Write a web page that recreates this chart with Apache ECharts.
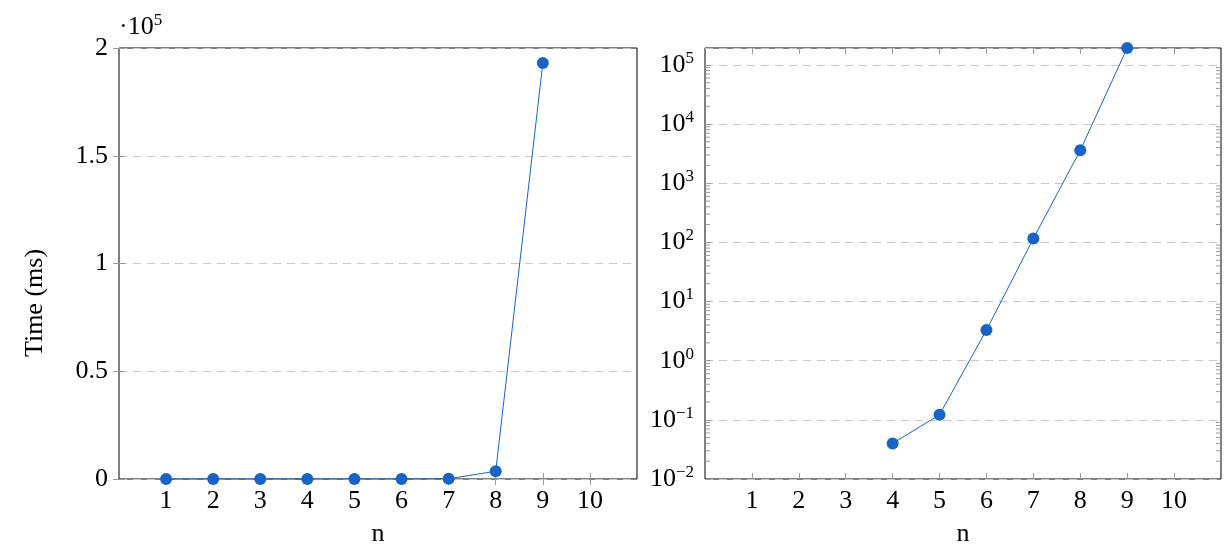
<!DOCTYPE html>
<html>
<head>
<meta charset="utf-8">
<script src="https://cdn.jsdelivr.net/npm/echarts@6/dist/echarts.min.js"></script>
<style>
html,body{margin:0;padding:0;background:#fff;}
#chart{width:1224px;height:547px;}
</style>
</head>
<body>
<div id="chart"></div>
<script>
// ---- data ----
const nValues = [1, 2, 3, 4, 5, 6, 7, 8, 9];
const timeMs = [0, 0, 0, 0.04, 0.122, 3.3, 116, 3600, 193000];
const xTickValues = [1, 2, 3, 4, 5, 6, 7, 8, 9, 10];
const linearTickLabels = ['0', '0.5', '1', '1.5', '2'];
const logMinorMultipliers = [2, 3, 4, 5, 6, 7, 8, 9];
const logDecades = [-2, -1, 0, 1, 2, 3, 4, 5];

const FONT = 'Liberation Serif';
const FS = 26;
const SUP = 17;
const BLUE = '#1764c4';
const TICK = '#9a9a9a';

const linearData = nValues.map((n, i) => [n, timeMs[i]]);
const logData = nValues.map((n, i) => [n, timeMs[i] > 0 ? timeMs[i] : null]).filter(d => d[1] !== null);
const logMax = Math.max.apply(null, timeMs);
const minorVals = [];
logDecades.forEach(e => logMinorMultipliers.forEach(m => {
  const v = m * Math.pow(10, e);
  if (v >= 0.01 && v <= logMax) minorVals.push(v);
}));

function xAxisCfg(gridIndex, pos) {
  const bottom = pos === 'bottom';
  return {
    type: 'value', gridIndex: gridIndex, position: pos,
    min: 0, max: 11, interval: 1,
    axisLine: {show: false},
    axisTick: {show: true, inside: true, length: 6, lineStyle: {color: TICK, width: 1},
      customValues: xTickValues},
    axisLabel: {show: bottom, color: '#000', fontFamily: FONT, fontSize: FS, margin: 9,
      customValues: xTickValues, formatter: v => String(v)},
    splitLine: {show: false},
    name: bottom ? 'n' : '', nameLocation: 'middle', nameGap: 42,
    nameTextStyle: {color: '#000', fontFamily: FONT, fontSize: FS}
  };
}

const option = {
  animation: false,
  backgroundColor: '#fff',
  grid: [
    {left: 119, top: 48, width: 518, height: 431, show: true, borderColor: '#000', borderWidth: 1,
     backgroundColor: 'transparent', outerBoundsMode: 'none', containLabel: false},
    {left: 705, top: 48, width: 516, height: 431, show: true, borderColor: '#000', borderWidth: 1,
     backgroundColor: 'transparent', outerBoundsMode: 'none', containLabel: false}
  ],
  graphic: [
    {type: 'text', x: 35, y: 303, rotation: Math.PI / 2,
     style: {text: 'Time (ms)', fill: '#000', font: FS + 'px "' + FONT + '"', align: 'center', verticalAlign: 'middle'}}
  ],
  xAxis: [
    xAxisCfg(0, 'bottom'), xAxisCfg(0, 'top'),
    xAxisCfg(1, 'bottom'), xAxisCfg(1, 'top')
  ],
  yAxis: [
    {
      type: 'value', gridIndex: 0, position: 'left', min: 0, max: 200000, interval: 50000,
      axisLine: {show: false},
      axisTick: {show: true, inside: true, length: 6, lineStyle: {color: TICK}},
      axisLabel: {color: '#000', fontFamily: FONT, fontSize: FS, margin: 11,
        formatter: (v) => linearTickLabels[Math.round(v / 50000)]},
      splitLine: {show: true, lineStyle: {color: '#c8c8c8', type: [8, 6], width: 1}},
      name: '{d|·10}{s|5}', nameLocation: 'end', nameGap: 6,
      nameTextStyle: {color: '#000', fontFamily: FONT, fontSize: FS, align: 'left', verticalAlign: 'bottom',
        padding: [0, 0, 0, 0],
        rich: {d: {fontFamily: FONT, fontSize: FS, color: '#000'},
               s: {fontFamily: FONT, fontSize: SUP, color: '#000', padding: [0, 0, 13, 0]}}}
    },
    {
      type: 'value', gridIndex: 0, position: 'right', min: 0, max: 200000, interval: 50000,
      axisLine: {show: false},
      axisTick: {show: true, inside: true, length: 6, lineStyle: {color: TICK}},
      axisLabel: {show: false}, splitLine: {show: false}
    },
    {
      type: 'log', logBase: 10, gridIndex: 1, position: 'left', min: 0.01, max: v => v.max,
      axisLine: {show: false},
      axisTick: {show: true, inside: true, length: 6, lineStyle: {color: TICK}},
      axisLabel: {color: '#000', fontFamily: FONT, fontSize: FS, margin: 11, showMaxLabel: false,
        formatter: (v) => {
          const e = Math.round(Math.log10(v));
          if (Math.abs(Math.log10(v) - e) > 0.01) return '';
          return '10{s|' + (e < 0 ? '\u2212' + (-e) : String(e)) + '}';
        },
        rich: {s: {fontFamily: FONT, fontSize: SUP, color: '#000', padding: [0, 0, 13, 0]}}},
      splitLine: {show: true, lineStyle: {color: '#c8c8c8', type: [8, 6], width: 1}}
    },
    {
      type: 'log', logBase: 10, gridIndex: 1, position: 'right', min: 0.01, max: v => v.max,
      axisLine: {show: false},
      axisTick: {show: true, inside: true, length: 6, lineStyle: {color: TICK}},
      axisLabel: {show: false}, splitLine: {show: false}
    }
  ],
  series: [
    {
      type: 'line', xAxisIndex: 0, yAxisIndex: 0, data: linearData,
      symbol: 'circle', symbolSize: 12, showSymbol: true,
      lineStyle: {color: BLUE, width: 1}, itemStyle: {color: BLUE}, z: 5, clip: false
    },
    {
      type: 'line', xAxisIndex: 2, yAxisIndex: 2, data: logData,
      symbol: 'circle', symbolSize: 12, showSymbol: true,
      lineStyle: {color: BLUE, width: 1}, itemStyle: {color: BLUE}, z: 5, clip: false
    },
    {
      type: 'custom', xAxisIndex: 2, yAxisIndex: 2, data: minorVals.map(v => [0, v]),
      silent: true, clip: false, z: 3,
      renderItem: (params, api) => {
        const p0 = api.coord([0, api.value(1)]);
        const p1 = api.coord([11, api.value(1)]);
        return {type: 'group', children: [
          {type: 'line', shape: {x1: p0[0], y1: p0[1], x2: p0[0] + 5, y2: p0[1]}, style: {stroke: TICK, lineWidth: 1}},
          {type: 'line', shape: {x1: p1[0], y1: p1[1], x2: p1[0] - 5, y2: p1[1]}, style: {stroke: TICK, lineWidth: 1}}
        ]};
      }
    }
  ]
};

const chart = echarts.init(document.getElementById('chart'), null, {renderer: 'canvas'});
chart.setOption(option);
</script>
</body>
</html>
